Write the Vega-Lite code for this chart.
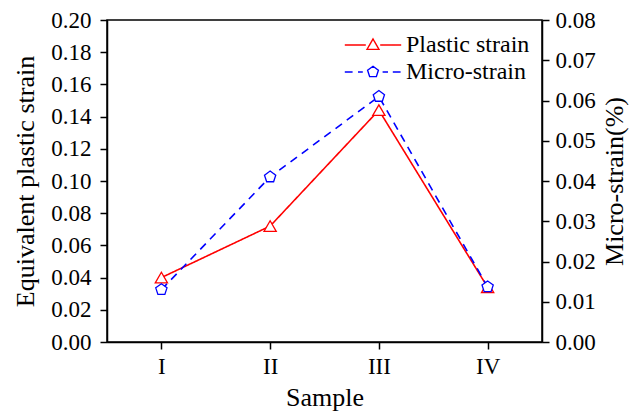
{
  "$schema": "https://vega.github.io/schema/vega-lite/v6.json",
  "width": 435,
  "height": 322,
  "autosize": "none",
  "padding": {"left": 107, "top": 20, "right": 102, "bottom": 72},
  "background": "white",
  "config": {
    "font": "Liberation Serif, Times New Roman, DejaVu Serif, serif",
    "view": {"stroke": "black", "strokeWidth": 1.5},
    "axis": {
      "domainColor": "black", "domainWidth": 1.5, "tickColor": "black", "tickWidth": 1.5, "tickSize": 7,
      "labelFont": "Liberation Serif, Times New Roman, DejaVu Serif, serif", "labelFontSize": 23, "labelColor": "black",
      "titleFont": "Liberation Serif, Times New Roman, DejaVu Serif, serif", "titleFontSize": 26, "titleFontWeight": "normal", "titleColor": "black",
      "grid": false
    },
    "legend": {"labelFont": "Liberation Serif, Times New Roman, DejaVu Serif, serif", "labelFontSize": 24, "labelColor": "black"}
  },
  "data": {"values": [
    {"sample": "I", "series": "Plastic strain", "value": 0.040},
    {"sample": "II", "series": "Plastic strain", "value": 0.072},
    {"sample": "III", "series": "Plastic strain", "value": 0.144},
    {"sample": "IV", "series": "Plastic strain", "value": 0.034},
    {"sample": "I", "series": "Micro-strain", "value": 0.013},
    {"sample": "II", "series": "Micro-strain", "value": 0.041},
    {"sample": "III", "series": "Micro-strain", "value": 0.061},
    {"sample": "IV", "series": "Micro-strain", "value": 0.0137}
  ]},
  "layer": [
    {
      "transform": [{"filter": "datum.series === 'Plastic strain'"}],
      "encoding": {
        "x": {"field": "sample", "type": "ordinal", "sort": ["I", "II", "III", "IV"],
              "scale": {"type": "point", "padding": 0.5},
              "axis": {"title": "Sample", "labelAngle": 0, "labelPadding": 6, "titlePadding": 6}},
        "y": {"field": "value", "type": "quantitative",
              "scale": {"domain": [0, 0.2], "nice": false, "zero": true},
              "axis": {"orient": "left", "title": "Equivalent plastic strain", "format": ".2f",
                       "values": [0, 0.02, 0.04, 0.06, 0.08, 0.1, 0.12, 0.14, 0.16, 0.18, 0.2],
                       "labelPadding": 9, "titlePadding": 12}}
      },
      "layer": [
        {"mark": {"type": "line", "color": "#ff0000", "strokeWidth": 1.6},
         "encoding": {"strokeDash": {"field": "series", "type": "nominal",
            "scale": {"domain": ["Micro-strain", "Plastic strain"], "range": [[8, 6], [1, 0]]},
            "legend": {"title": null, "orient": "none", "legendX": 254, "legendY": 13, "values": ["Plastic strain"],
                       "symbolType": "M-4.7,0L-1.2,0M1.2,0L4.7,0M0,-1L1,0.73L-1,0.73Z",
                       "symbolSize": 144, "labelOffset": 21, "symbolStrokeColor": "#ff0000",
                       "symbolStrokeWidth": 1.4, "symbolFillColor": "transparent"}}}},
        {"mark": {"type": "point", "shape": "triangle-up", "size": 150, "filled": true, "fill": "white", "strokeWidth": 1.3, "opacity": 1},
         "encoding": {"stroke": {"field": "series", "type": "nominal",
            "scale": {"domain": ["Plastic strain", "Micro-strain"], "range": ["#ff0000", "#0000ff"]},
            "legend": {"title": null, "orient": "none", "legendX": 254, "legendY": 40, "values": ["Micro-strain"],
                       "symbolType": "M-4.7,0L-3.4,0M-2.5,0L-1.7,0M1.6,0L2.5,0M3.3,0L4.6,0M0,-0.95L0.9,-0.29L0.56,0.77L-0.56,0.77L-0.9,-0.29Z",
                       "symbolSize": 144, "labelOffset": 21, "symbolStrokeWidth": 1.4, "symbolFillColor": "transparent"}}}}
      ]
    },
    {
      "transform": [{"filter": "datum.series === 'Micro-strain'"}],
      "encoding": {
        "x": {"field": "sample", "type": "ordinal", "sort": ["I", "II", "III", "IV"],
              "scale": {"type": "point", "padding": 0.5},
              "axis": {"title": "Sample", "labelAngle": 0, "labelPadding": 6, "titlePadding": 6}},
        "y": {"field": "value", "type": "quantitative",
              "scale": {"domain": [0, 0.08], "nice": false, "zero": true},
              "axis": {"orient": "right", "title": "Micro-strain(%)", "format": ".2f", "titleAngle": -90, "titleBaseline": "top",
                       "values": [0, 0.01, 0.02, 0.03, 0.04, 0.05, 0.06, 0.07, 0.08],
                       "labelPadding": 6, "titlePadding": 6}}
      },
      "layer": [
        {"mark": {"type": "line", "color": "#0000ff", "strokeWidth": 1.6, "strokeDash": [8, 6]}},
        {"mark": {"type": "point", "shape": "M0,-1L0.951,-0.309L0.588,0.809L-0.588,0.809L-0.951,-0.309Z", "size": 140, "filled": true, "fill": "white", "strokeWidth": 1.3, "opacity": 1},
         "encoding": {"stroke": {"field": "series", "type": "nominal",
            "scale": {"domain": ["Plastic strain", "Micro-strain"], "range": ["#ff0000", "#0000ff"]}}}}
      ]
    }
  ],
  "resolve": {"scale": {"y": "independent"}}
}
